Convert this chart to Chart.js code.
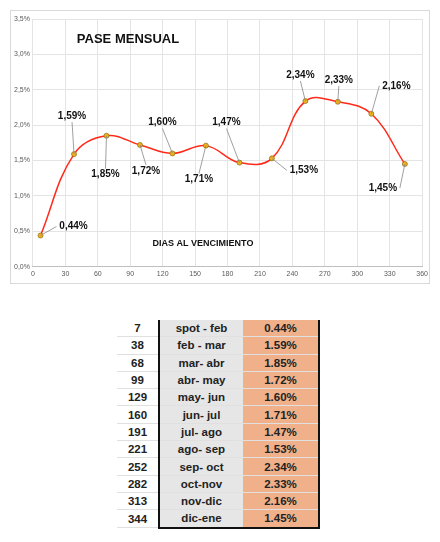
<!DOCTYPE html>
<html><head><meta charset="utf-8">
<script src="https://cdn.jsdelivr.net/npm/chart.js@4/dist/chart.umd.min.js"></script>
<style>
body{margin:0;background:#fff;font-family:Calibri,"Liberation Sans",Arial,sans-serif;}
#box{position:absolute;left:10px;top:10px;width:420px;height:274px;border:1px solid #d9d9d9;box-sizing:border-box;}
#tbl{position:absolute;left:117px;top:320px;border-collapse:collapse;font-family:"Liberation Sans",Arial,sans-serif;font-weight:bold;font-size:11.5px;color:#222;}
#tbl td{height:16.3px;padding:0;text-align:center;border-bottom:1px solid #e0e0e0;}
#tbl td.n{width:41px;}
#tbl td.m{width:83px;background:#e6e6e6;border-left:2px solid #111;}
#tbl td.v{width:75px;background:#efb08a;border-right:2px solid #111;}
#tbl tr:last-child td.m,#tbl tr:last-child td.v{border-bottom:2px solid #111;}
</style></head><body>
<div id="box"><canvas id="c" width="420" height="274"></canvas></div>
<table id="tbl"></table>
<script>
const days=[7,38,68,99,129,160,191,221,252,282,313,344];
const periods=["spot - feb","feb - mar","mar- abr","abr- may","may- jun","jun- jul","jul- ago","ago- sep","sep- oct","oct-nov","nov-dic","dic-ene"];
const values=[0.44,1.59,1.85,1.72,1.60,1.71,1.47,1.53,2.34,2.33,2.16,1.45];
const tbl=document.getElementById('tbl');
days.forEach((d,i)=>{const tr=document.createElement('tr');
tr.innerHTML='<td class="n">'+d+'</td><td class="m">'+periods[i]+'</td><td class="v">'+values[i].toFixed(2)+'%</td>';tbl.appendChild(tr);});
const offs=[[33,-9],[-2,-38],[-1,39],[6,26],[-10,-31],[-7,34],[-13,-40],[32,12],[-5,-26],[1,-22],[25,-28],[-22,24]];
const labelPlugin={id:'lbl',afterDatasetsDraw(ch){
 const ctx=ch.ctx,meta=ch.getDatasetMeta(0);ctx.save();
 meta.data.forEach((p,i)=>{const [dx,dy]=offs[i];const lx=p.x+dx,ly=p.y+dy;
  ctx.strokeStyle='#888';ctx.lineWidth=0.8;ctx.beginPath();ctx.moveTo(p.x,p.y);
  const ex=lx-Math.sign(dx)*(Math.abs(dx)>15?17:0), ey=ly-(Math.abs(dx)>15?0:Math.sign(dy)*6);
  ctx.lineTo(ex,ey);ctx.stroke();
  ctx.fillStyle='#111';ctx.font='bold 10px "Liberation Sans",Arial,sans-serif';ctx.textAlign='center';ctx.textBaseline='middle';
  ctx.fillText(values[i].toFixed(2).replace('.',',')+'%',lx,ly);});
 ctx.font='bold 13px "Liberation Sans",Arial,sans-serif';ctx.textAlign='center';ctx.fillText('PASE MENSUAL',117,28);
 ctx.font='bold 9px "Liberation Sans",Arial,sans-serif';ctx.fillText('DIAS AL VENCIMIENTO',192,233);
 ctx.restore();}};
new Chart(document.getElementById('c'),{type:'line',
 data:{datasets:[{data:days.map((d,i)=>({x:d,y:values[i]})),borderColor:'#ff2a1a',borderWidth:1.5,tension:0.4,cubicInterpolationMode:'default',
  pointRadius:2.5,pointBackgroundColor:'#f0b020',pointBorderColor:'#8a6a10',pointBorderWidth:0.7}]},
 options:{responsive:false,animation:false,layout:{padding:{left:0,right:6,top:8,bottom:4}},
  plugins:{legend:{display:false},tooltip:{enabled:false}},
  scales:{x:{type:'linear',min:0,max:360,ticks:{stepSize:30,color:'#595959',font:{size:7}},grid:{color:'#e4e4e4',drawTicks:false},border:{color:'#bfbfbf'}},
   y:{min:0,max:3.5,ticks:{stepSize:0.5,color:'#595959',font:{size:7},callback:v=>v.toFixed(1).replace('.',',')+'%'},grid:{color:'#e4e4e4',drawTicks:false},border:{display:false}}}},
 plugins:[labelPlugin]});
</script></body></html>
